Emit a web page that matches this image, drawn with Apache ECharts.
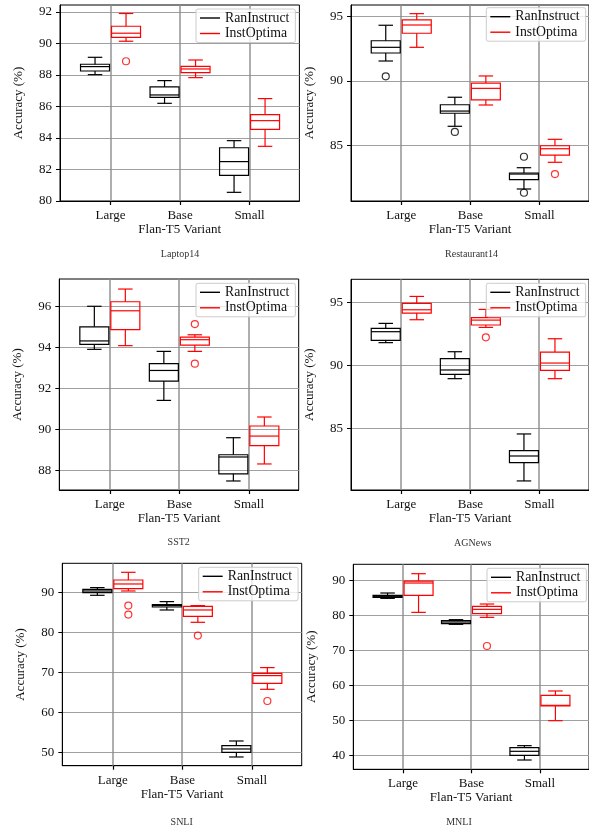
<!DOCTYPE html>
<html><head><meta charset="utf-8">
<script src="https://cdn.jsdelivr.net/npm/echarts@6/dist/echarts.min.js"></script>
<style>html,body{margin:0;padding:0;background:#fff}#c{width:589px;height:832px}</style>
</head><body><div id="c"></div><script>
// ---------------- data ----------------
const CATEGORIES = ['Large', 'Base', 'Small'];
const METHODS = ['RanInstruct', 'InstOptima'];
const PANEL_NAMES = ['Laptop14', 'Restaurant14', 'SST2', 'AGNews', 'SNLI', 'MNLI'];
const X_LABEL = 'Flan-T5 Variant';
const Y_LABEL = 'Accuracy (%)';

// each row: [min, Q1, median, Q3, max] for Large, Base, Small
const laptopRan = [[88.02, 88.25, 88.53, 88.68, 89.12], [86.2, 86.58, 86.73, 87.24, 87.64], [80.55, 81.63, 82.5, 83.38, 83.83]];
const laptopOpt = [[90.14, 90.39, 90.65, 91.09, 91.9], [87.83, 88.15, 88.38, 88.55, 88.95], [83.47, 84.55, 85.1, 85.48, 86.5]];
const laptopRanOut = [[], [], []];
const laptopOptOut = [[88.87], [], []];

const restRan = [[91.55, 92.17, 92.61, 93.12, 94.32], [86.49, 87.5, 87.67, 88.16, 88.74], [81.63, 82.35, 82.79, 82.87, 83.28]];
const restOpt = [[92.61, 93.7, 94.34, 94.73, 95.22], [88.14, 88.53, 89.43, 89.84, 90.39], [83.7, 84.26, 84.75, 84.98, 85.48]];
const restRanOut = [[90.36], [86.05], [84.13, 81.34]];
const restOptOut = [[], [], [82.79]];

const sst2Ran = [[93.92, 94.16, 94.33, 95.02, 96.02], [91.43, 92.37, 92.89, 93.22, 93.82], [87.5, 87.85, 88.67, 88.78, 89.61]];
const sst2Opt = [[94.1, 94.88, 95.8, 96.24, 96.86], [93.82, 94.13, 94.39, 94.52, 94.63], [88.33, 89.22, 89.69, 90.18, 90.62]];
const sst2RanOut = [[], [], []];
const sst2OptOut = [[], [95.15, 93.22], []];

const agRan = [[91.83, 92.01, 92.7, 92.96, 93.36], [88.97, 89.31, 89.66, 90.56, 91.11], [80.85, 82.3, 82.83, 83.25, 84.58]];
const agOpt = [[93.65, 94.18, 94.44, 94.95, 95.5], [93.04, 93.23, 93.62, 93.81, 94.47], [88.97, 89.63, 90.21, 91.08, 92.14]];
const agRanOut = [[], [], []];
const agOptOut = [[], [92.25], []];

const snliRan = [[89.25, 89.92, 90.33, 90.75, 91.17], [85.58, 86.33, 86.67, 86.92, 87.67], [48.83, 50.0, 50.83, 51.67, 52.83]];
const snliOpt = [[90.33, 90.92, 92.08, 93.08, 95.0], [82.5, 84.0, 85.58, 86.5, 86.67], [65.75, 67.25, 69.17, 69.75, 71.17]];
const snliRanOut = [[], [], []];
const snliOptOut = [[86.67, 84.42], [79.17], [62.83]];

const mnliRan = [[84.94, 85.23, 85.52, 85.8, 86.47], [77.5, 77.69, 78.17, 78.55, 78.84], [38.66, 40.0, 41.15, 42.19, 42.77]];
const mnliOpt = [[80.93, 85.8, 89.33, 89.9, 92.0], [79.5, 80.55, 81.79, 82.65, 83.32], [49.92, 54.12, 54.31, 57.18, 58.42]];
const mnliRanOut = [[], [], []];
const mnliOptOut = [[], [71.3], []];

// y-axis ranges and tick labels
const laptopY = [80, 92.44], laptopTicks = [80, 82, 84, 86, 88, 90, 92];
const restY = [80.7, 95.89], restTicks = [85, 90, 95];
const sst2Y = [87.06, 97.35], sst2Ticks = [88, 90, 92, 94, 96];
const agY = [80.13, 96.86], agTicks = [85, 90, 95];
const snliY = [46.65, 97.25], snliTicks = [50, 60, 70, 80, 90];
const mnliY = [36.0, 94.69], mnliTicks = [40, 50, 60, 70, 80, 90];
const X_RANGE = [-0.727, 2.717];
const X_TICKS = [0, 1, 2];

// ---------------- layout / style ----------------
const FONT = '"Liberation Serif", "Times New Roman", serif';
const COLORS = ['#000000', '#ff0000'];
const GRID_COLOR = '#a0a0a0';
const VGRID_COLOR = '#8c8c8c';
const LINE_W = 1.2, BOX_W = 29, CAP_W = 14.5, OFFSET = 15.5;
const GRID_W = 239.4;

const panels = [
  { ran: laptopRan, opt: laptopOpt, ranOut: laptopRanOut, optOut: laptopOptOut, y: laptopY, ticks: laptopTicks,
    grid: [60, 5, 196], legend: [196, 9], title: [180, 254] },
  { ran: restRan, opt: restOpt, ranOut: restRanOut, optOut: restOptOut, y: restY, ticks: restTicks,
    grid: [351, 5, 196], legend: [486.3, 7.7], title: [471.5, 254] },
  { ran: sst2Ran, opt: sst2Opt, ranOut: sst2RanOut, optOut: sst2OptOut, y: sst2Y, ticks: sst2Ticks,
    grid: [59.3, 279, 211], legend: [196, 283.3], title: [178.7, 542.5] },
  { ran: agRan, opt: agOpt, ranOut: agRanOut, optOut: agOptOut, y: agY, ticks: agTicks,
    grid: [351, 279.3, 210.7], legend: [486.3, 283.3], title: [472.7, 543.5] },
  { ran: snliRan, opt: snliOpt, ranOut: snliRanOut, optOut: snliOptOut, y: snliY, ticks: snliTicks,
    grid: [62.3, 563.3, 202.4], legend: [198.7, 567.3], title: [181.7, 822] },
  { ran: mnliRan, opt: mnliOpt, ranOut: mnliRanOut, optOut: mnliOptOut, y: mnliY, ticks: mnliTicks,
    grid: [353.3, 564.3, 205], legend: [487, 568.3], title: [459, 822] }
];

function boxRender(sign, color, withGridLine) {
  return function (params, api) {
    const ci = api.value(0);
    const py = k => api.coord([ci, api.value(k)])[1];
    const xc = api.coord([ci, api.value(3)])[0];
    const cx = xc + sign * OFFSET;
    const yMin = py(1), yQ1 = py(2), yMed = py(3), yQ3 = py(4), yMax = py(5);
    const st = { stroke: color, lineWidth: LINE_W, fill: 'none' };
    const hb = BOX_W / 2, hc = CAP_W / 2;
    const children = [];
    if (withGridLine) {
      // vertical grid line through the category position, full plot height
      const cs = params.coordSys;
      const gx = Math.round(xc);
      children.push({ type: 'polyline', z2: -10, shape: { points: [[gx, cs.y], [gx, cs.y + cs.height]] },
        style: { stroke: VGRID_COLOR, lineWidth: 1.4, fill: 'none' } });
    }
    children.push(
      { type: 'rect', shape: { x: cx - hb, y: yQ3, width: BOX_W, height: yQ1 - yQ3 }, style: st },
      { type: 'line', shape: { x1: cx - hb, y1: yMed, x2: cx + hb, y2: yMed }, style: st },
      { type: 'line', shape: { x1: cx, y1: yQ1, x2: cx, y2: yMin }, style: st },
      { type: 'line', shape: { x1: cx, y1: yQ3, x2: cx, y2: yMax }, style: st },
      { type: 'line', shape: { x1: cx - hc, y1: yMin, x2: cx + hc, y2: yMin }, style: st },
      { type: 'line', shape: { x1: cx - hc, y1: yMax, x2: cx + hc, y2: yMax }, style: st }
    );
    return { type: 'group', children };
  };
}

const option = { animation: false, backgroundColor: '#fff', grid: [], xAxis: [], yAxis: [], series: [], legend: [], graphic: [] };
const txt = { fontFamily: FONT, fontSize: 13, color: '#111' };

panels.forEach((p, i) => {
  option.grid.push({ left: p.grid[0], top: p.grid[1], width: GRID_W, height: p.grid[2],
    show: true, borderColor: '#000', borderWidth: 1, backgroundColor: 'rgba(0,0,0,0)' });
  option.xAxis.push({
    type: 'value', gridIndex: i, min: X_RANGE[0], max: X_RANGE[1],
    name: X_LABEL, nameLocation: 'middle', nameGap: 22, nameTextStyle: txt,
    axisLine: { show: true, onZero: false, lineStyle: { color: '#000', width: 1 } },
    axisTick: { show: true, inside: false, length: 4, customValues: X_TICKS, lineStyle: { color: '#000', width: 1.2 } },
    axisLabel: { show: true, customValues: X_TICKS, formatter: v => CATEGORIES[Math.round(v)], margin: 8, ...txt },
    splitLine: { show: false }
  });
  option.yAxis.push({
    type: 'value', gridIndex: i, min: p.y[0], max: p.y[1],
    name: Y_LABEL, nameLocation: 'middle', nameGap: 35, nameRotate: 90, nameTextStyle: txt,
    axisLine: { show: true, onZero: false, lineStyle: { color: '#000', width: 1 } },
    axisTick: { show: true, inside: false, length: 4, customValues: p.ticks, lineStyle: { color: '#000', width: 1 } },
    axisLabel: { show: true, customValues: p.ticks, formatter: v => String(v), margin: 8, ...txt },
    splitLine: { show: true, showMinLine: p.ticks[0] > p.y[0], lineStyle: { color: GRID_COLOR, width: 1 } }
  });
  [[p.ran, p.ranOut], [p.opt, p.optOut]].forEach((pair, m) => {
    const sign = m === 0 ? -1 : 1;
    option.series.push({
      type: 'custom', name: METHODS[m], xAxisIndex: i, yAxisIndex: i,
      renderItem: boxRender(sign, COLORS[m], m === 0),
      encode: { x: 0, y: [1, 2, 3, 4, 5] },
      data: pair[0].map((b, ci) => [ci].concat(b)), z: 3
    });
    const outs = [];
    pair[1].forEach((vals, ci) => vals.forEach(v => outs.push([ci, v])));
    option.series.push({
      type: 'scatter', name: METHODS[m] + ' outliers', xAxisIndex: i, yAxisIndex: i,
      data: outs, symbol: 'circle', symbolSize: 7, symbolOffset: [sign * OFFSET, 0],
      itemStyle: { color: 'rgba(0,0,0,0)', borderColor: COLORS[m], borderWidth: LINE_W }, z: 3
    });
  });
  option.legend.push({
    left: p.legend[0], top: p.legend[1], orient: 'vertical', selectedMode: false,
    data: METHODS.map((n, m) => ({ name: n, icon: 'rect', itemStyle: { color: COLORS[m], borderWidth: 0 } })),
    itemWidth: 20, itemHeight: 1.4, itemGap: 1.5, padding: [2, 6, 2, 4],
    borderColor: '#cccccc', borderWidth: 1, borderRadius: 2, backgroundColor: 'rgba(255,255,255,0.8)',
    textStyle: { fontFamily: FONT, fontSize: 13.8, color: '#111', lineHeight: 14 }, z: 10
  });
  option.graphic.push({
    type: 'text', x: p.title[0], y: p.title[1],
    style: { text: PANEL_NAMES[i], fontFamily: FONT, fontSize: 10, fill: '#333', align: 'center', verticalAlign: 'middle' }
  });
});

const chart = echarts.init(document.getElementById('c'), null, { renderer: 'canvas' });
chart.setOption(option);
</script></body></html>
